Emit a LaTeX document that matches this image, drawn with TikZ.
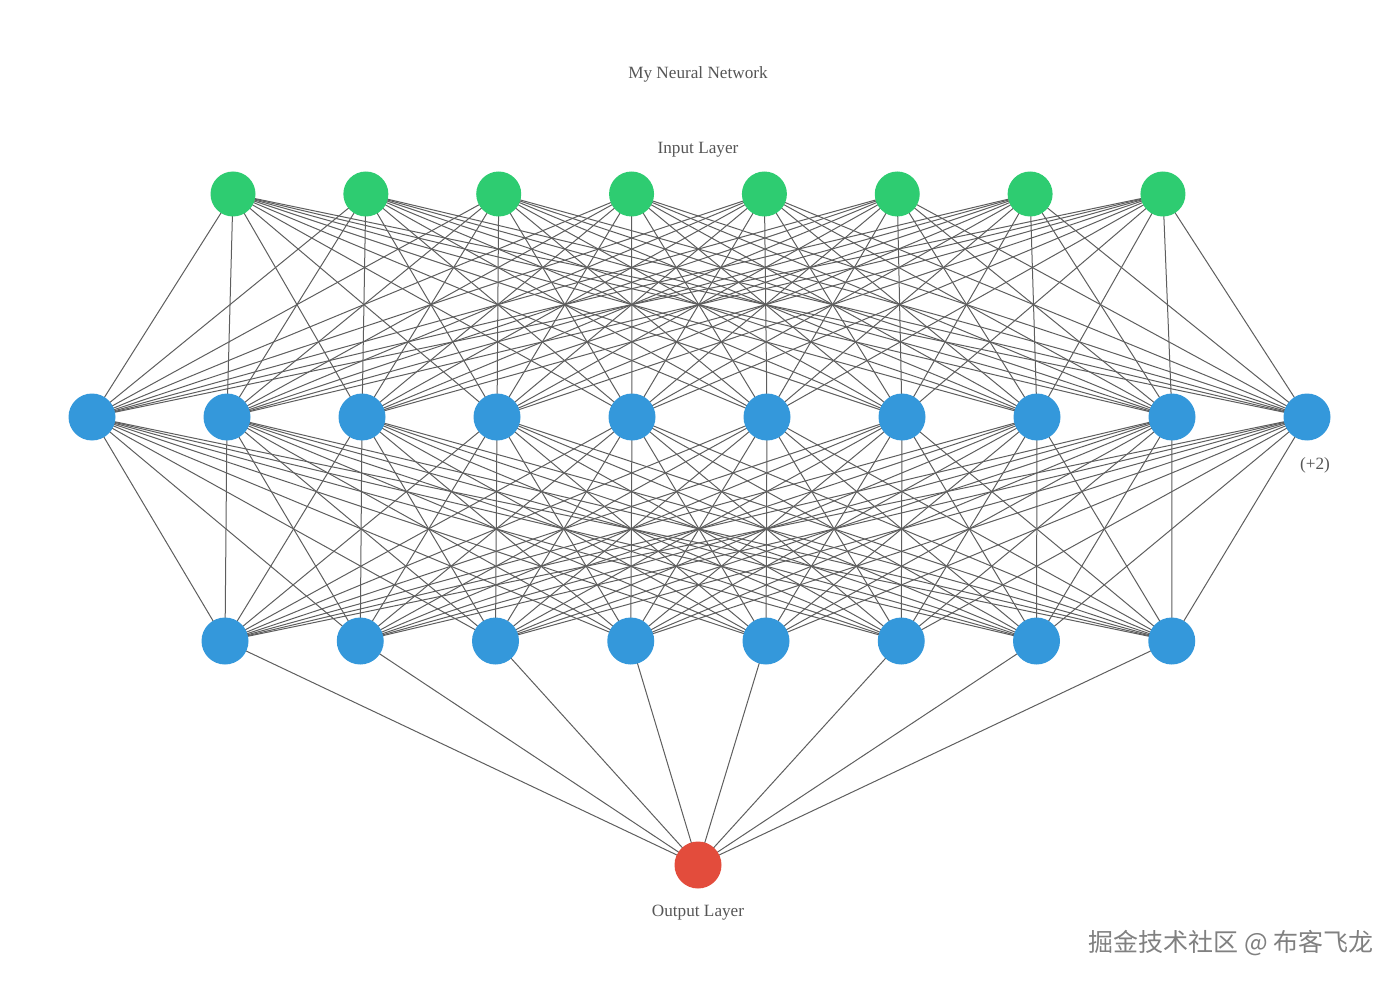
\documentclass[tikz,border=0pt]{standalone}
\usepackage{fontspec}
\setmainfont{Liberation Serif}
\newfontfamily\cjkfont{Noto Sans CJK SC}
\usepackage{xcolor}
\usepackage{tikz}
\usetikzlibrary{backgrounds}

\definecolor{ingreen}{HTML}{2ECC71}
\definecolor{hidblue}{HTML}{3498DB}
\definecolor{outred}{HTML}{E34C3C}
\definecolor{edgegray}{HTML}{5E5E5E}
\definecolor{labgray}{HTML}{555555}

\begin{document}
\begin{tikzpicture}[
  x=1pt, y=-1pt,
  neuron/.style={circle, minimum size=47pt, inner sep=0pt},
  inneuron/.style={neuron, fill=ingreen, minimum size=45pt},
  hidneuron/.style={neuron, fill=hidblue},
  outneuron/.style={neuron, fill=outred},
  lbl/.style={font=\fontsize{17.2}{19}\selectfont, text=labgray, inner sep=0pt},
  synapse/.style={draw=edgegray, line width=1pt},
  wmark/.style={font=\fontsize{25}{27}\selectfont\cjkfont, text=black!50, inner sep=0pt}
]
\useasboundingbox (0,0) rectangle (1400,984);

% layers
\foreach \i in {1,...,8}
  \node[inneuron] (in\i) at ({233+132.85*(\i-1)},194) {};
\foreach \i in {1,...,10}
  \node[hidneuron] (ha\i) at ({92+135*(\i-1)},417) {};
\foreach \i in {1,...,8}
  \node[hidneuron] (hb\i) at ({225+135.25*(\i-1)},641) {};
\node[outneuron] (out) at (698,865) {};

% labels
\node[lbl] (title) at (698,74) {My Neural Network};
\node[lbl] (inlabel) at (698,150) {Input Layer};
\node[lbl] (more) at (1315,465) {(+2)};
\node[lbl] (outlabel) at (698,913) {Output Layer};
\node[wmark] (wm) at (1231,943) {掘金技术社区 @ 布客飞龙};

% connections
\begin{scope}[on background layer]
\foreach \i in {1,...,8}
  \foreach \j in {1,...,10}
    \draw[synapse] (in\i.center) -- (ha\j.center);
\foreach \i in {1,...,10}
  \foreach \j in {1,...,8}
    \draw[synapse] (ha\i.center) -- (hb\j.center);
\foreach \i in {1,...,8}
  \draw[synapse] (hb\i.center) -- (out.center);
\end{scope}
\end{tikzpicture}
\end{document}
